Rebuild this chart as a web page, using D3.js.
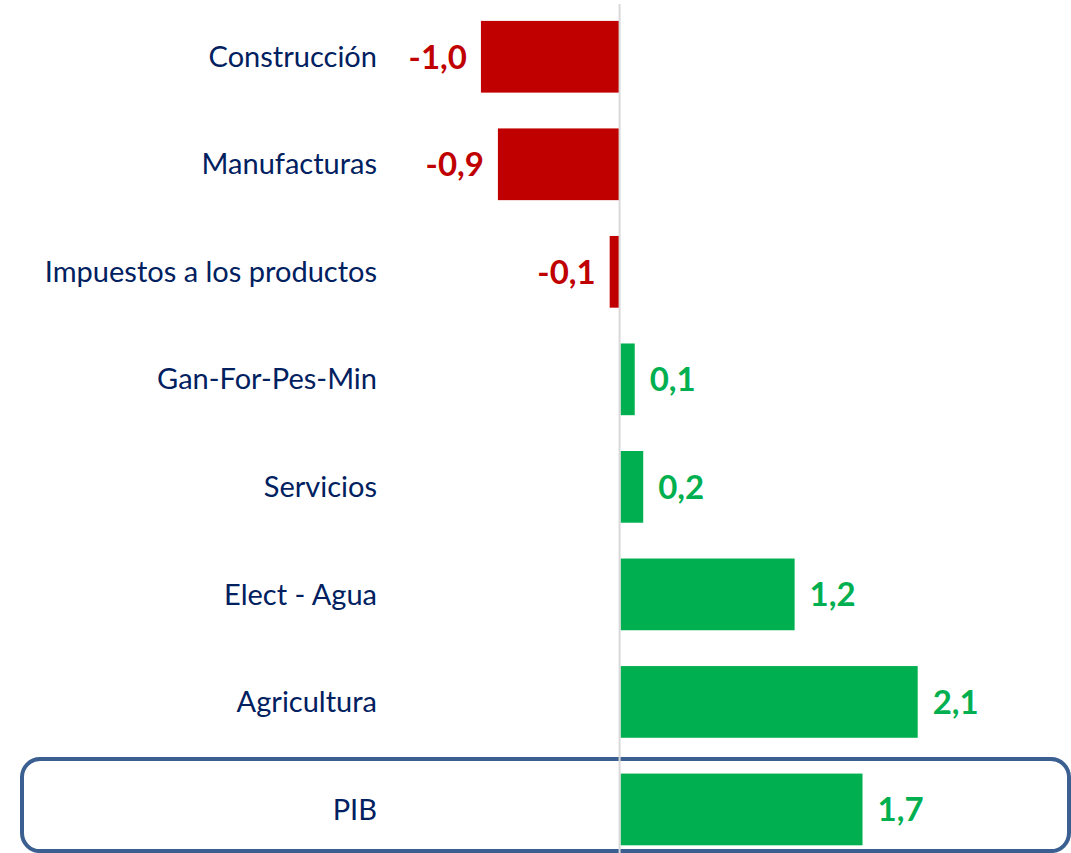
<!doctype html>
<html>
<head>
<meta charset="utf-8">
<title>Contribución al crecimiento del PIB</title>
<style>
  body { margin: 0; background: #fff; }
  .cat { font-family: Lato, sans-serif; font-size: 29px; fill: #002060; }
  .val { font-family: Lato, sans-serif; font-size: 33px; font-weight: bold; }
</style>
<script src="https://d3js.org/d3.v7.min.js"></script>
</head>
<body>
<svg width="1071" height="853"></svg>
<script>
// sectors, top to bottom
var categories = ["Construcción", "Manufacturas", "Impuestos a los productos", "Gan-For-Pes-Min",
                  "Servicios", "Elect - Agua", "Agricultura", "PIB"];
// contribution values (labels show one decimal)
var values = [-0.98, -0.86, -0.07, 0.10, 0.16, 1.23, 2.10, 1.71];

var svg = d3.select("svg"),
    red = "#C00000",
    green = "#00B050",
    navy = "#002060";

// decimal comma, plain hyphen for minus
var locale = d3.formatLocale({decimal: ",", thousands: ".", grouping: [3], currency: ["", ""], minus: "-"});
var fmt = locale.format(".1f");

// x scale: zero line sits at ~619px
var x = d3.scaleLinear().domain([-1, 2.1]).range([478.1, 916.7]);

var y = d3.scaleBand()
    .domain(categories)
    .range([3, 863.2])
    .paddingInner(0.333)
    .paddingOuter(0.1665);

// highlight box around PIB
var pibY = y("PIB");
svg.append("rect")
    .attr("x", 22)
    .attr("y", pibY - 14.5)
    .attr("width", 1047)
    .attr("height", 92)
    .attr("rx", 18)
    .attr("ry", 18)
    .attr("fill", "none")
    .attr("stroke", "#3C5F91")
    .attr("stroke-width", 4);

// bars
svg.selectAll(".bar")
    .data(values)
    .enter()
    .append("rect")
    .attr("class", "bar")
    .attr("x", function(d) { return Math.min(x(0), x(d)) + (d > 0 ? 1 : 0); })
    .attr("y", function(d, i) { return y(categories[i]); })
    .attr("width", function(d) { return Math.abs(x(d) - x(0)); })
    .attr("height", y.bandwidth())
    .attr("fill", function(d) { return d < 0 ? red : green; });

// zero line
svg.append("line")
    .attr("x1", x(0)).attr("x2", x(0))
    .attr("y1", 4).attr("y2", 853)
    .attr("stroke", "#D9D9D9")
    .attr("stroke-width", 2);

// category labels
svg.selectAll(".cat")
    .data(categories)
    .enter()
    .append("text")
    .attr("class", "cat")
    .attr("x", 377)
    .attr("y", function(d) { return y(d) + y.bandwidth() / 2; })
    .attr("dy", "0.35em")
    .attr("text-anchor", "end")
    .text(function(d) { return d; });

// value labels
svg.selectAll(".val")
    .data(values)
    .enter()
    .append("text")
    .attr("class", "val")
    .attr("x", function(d) { return d < 0 ? x(d) - 14 : x(d) + 16; })
    .attr("y", function(d, i) { return y(categories[i]) + y.bandwidth() / 2; })
    .attr("dy", "0.36em")
    .attr("text-anchor", function(d) { return d < 0 ? "end" : "start"; })
    .attr("fill", function(d) { return d < 0 ? red : green; })
    .text(function(d) { return fmt(d); });
</script>
</body>
</html>
